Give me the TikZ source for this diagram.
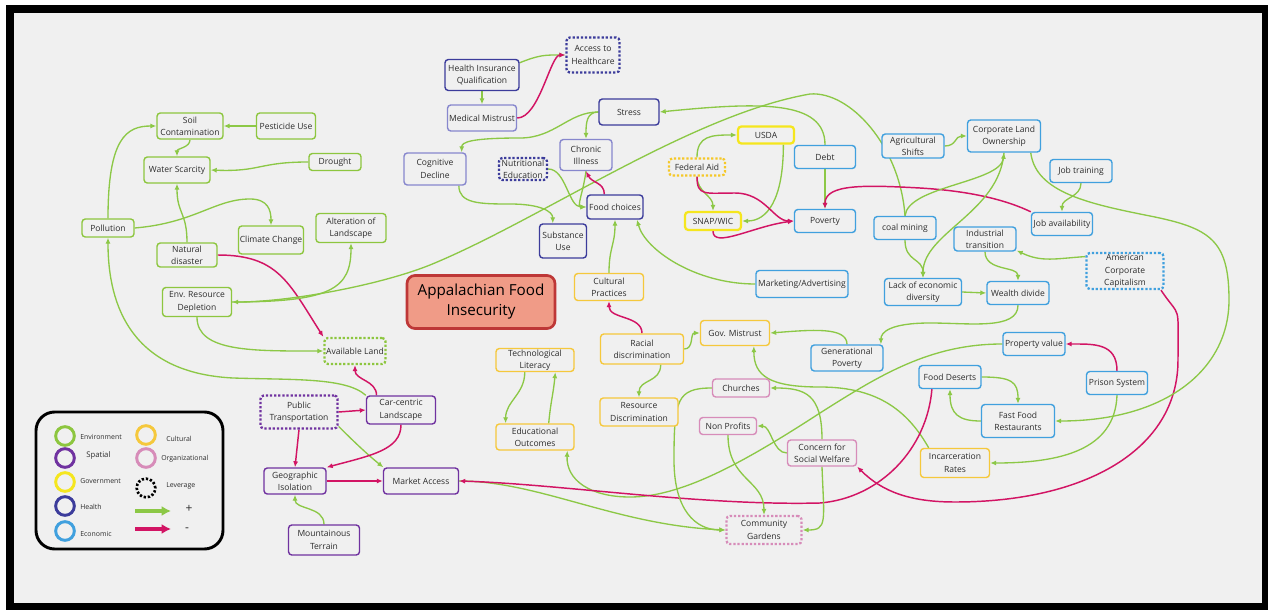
\documentclass[tikz,border=0pt]{standalone}
\usepackage{fontspec}
\setmainfont{Open Sans}
\usetikzlibrary{arrows.meta,calc}
\definecolor{bgc}{RGB}{240,240,240}
\definecolor{txt}{RGB}{45,45,45}
\definecolor{cenv}{RGB}{141,198,63}
\definecolor{cspa}{RGB}{112,50,160}
\definecolor{chlt}{RGB}{60,60,155}
\definecolor{chlv}{RGB}{135,135,205}
\definecolor{cgov}{RGB}{245,230,30}
\definecolor{cfed}{RGB}{245,200,40}
\definecolor{ceco}{RGB}{64,160,222}
\definecolor{ccul}{RGB}{245,200,60}
\definecolor{corg}{RGB}{215,140,185}
\definecolor{cpos}{RGB}{140,200,70}
\definecolor{cneg}{RGB}{210,20,100}
\definecolor{tfill}{RGB}{240,155,135}
\definecolor{tdraw}{RGB}{190,55,55}
\pgfdeclarelayer{bglayer}
\pgfsetlayers{bglayer,main}
\begin{document}
\begin{tikzpicture}[x=0.75pt,y=-0.75pt,
  box/.style={rectangle, rounded corners=2.5pt, inner sep=0pt, align=center,
    font=\fontsize{6.4}{9.2}\selectfont, text=txt, fill=bgc, line width=1.05pt},
  env/.style={box, draw=cenv},
  spa/.style={box, draw=cspa},
  hlt/.style={box, draw=chlt},
  hlv/.style={box, draw=chlv},
  gvt/.style={box, draw=cgov, line width=1.7pt},
  fedb/.style={box, draw=cfed},
  eco/.style={box, draw=ceco},
  cul/.style={box, draw=ccul},
  org/.style={box, draw=corg},
  lev/.style={line width=1.7pt, dash pattern=on 1.7pt off 1.4pt},
  bw/.style={minimum width={#1*0.75pt}},
  bh/.style={minimum height={#1*0.75pt}},
  pe/.style={draw=cpos, line width=1pt, -{Latex[length=4.5pt,width=3.8pt]}},
  ne/.style={draw=cneg, line width=1.1pt, -{Latex[length=4.5pt,width=3.8pt]}},
  lgc/.style={circle, line width=2.2pt, minimum size=14pt, inner sep=0pt},
  lgt/.style={anchor=west, font=\fontsize{5.2}{6}\selectfont, text=txt, inner sep=0pt},
  titlebox/.style={rectangle, rounded corners=6pt, fill=tfill, draw=tdraw, line width=2pt,
    align=center, inner sep=0pt, font=\fontsize{11.4}{15}\selectfont, text={RGB:red,40;green,30;blue,30}}
]
\useasboundingbox (0,0) rectangle (1268,610);

% ---------- nodes: environment
\node[env,bw=66,bh=26] (soil) at (190,126) {Soil\\Contamination};
\node[env,bw=59,bh=26] (pest) at (286,126) {Pesticide Use};
\node[env,bw=66,bh=26] (water) at (177,170) {Water Scarcity};
\node[env,bw=52,bh=17] (drought) at (335,162) {Drought};
\node[env,bw=52,bh=18] (poll) at (108,228) {Pollution};
\node[env,bw=65,bh=28] (climate) at (271,240) {Climate Change};
\node[env,bw=70,bh=29] (alter) at (351,228) {Alteration of\\Landscape};
\node[env,bw=60,bh=24] (nat) at (187,255) {Natural\\disaster};
\node[env,bw=69,bh=29] (envres) at (197,302) {Env. Resource\\Depletion};
\node[env,lev,bw=61,bh=26] (avail) at (355,351) {Available Land};
% spatial
\node[spa,lev,bw=77,bh=33] (pt) at (299,412) {Public\\Transportation};
\node[spa,bw=69,bh=28] (car) at (401,410) {Car-centric\\Landscape};
\node[spa,bw=62,bh=26] (geo) at (295,481) {Geographic\\Isolation};
\node[spa,bw=75,bh=26] (market) at (421,481) {Market Access};
\node[spa,bw=71,bh=30] (mount) at (324,540) {Mountainous\\Terrain};
% health
\node[hlt,lev,bw=53,bh=35] (access) at (593,55) {Access to\\Healthcare};
\node[hlt,bw=74,bh=31] (hiq) at (482,75) {Health Insurance\\Qualification};
\node[hlv,bw=69,bh=26] (mm) at (482,118) {Medical Mistrust};
\node[hlt,bw=60,bh=26] (stress) at (629,112) {Stress};
\node[hlv,bw=52,bh=31] (chronic) at (586,155) {Chronic\\Illness};
\node[hlv,bw=62,bh=32] (cog) at (435,169) {Cognitive\\Decline};
\node[hlt,lev,bw=48,bh=22] (nutr) at (523,169) {Nutritional\\Education};
\node[hlt,bw=56,bh=24] (food) at (615,207) {Food choices};
\node[hlt,bw=47,bh=34] (subst) at (563,241) {Substance\\Use};
% government
\node[gvt,bw=56,bh=17] (usda) at (766,135) {USDA};
\node[fedb,lev,bw=56,bh=17] (fed) at (697,167) {Federal Aid};
\node[gvt,bw=56,bh=18] (snap) at (713,221) {SNAP/WIC};
% economic
\node[eco,bw=61,bh=23] (debt) at (825,157) {Debt};
\node[eco,bw=61,bh=23] (pov) at (825,221) {Poverty};
\node[eco,bw=92,bh=27] (mkt) at (802,284) {Marketing/Advertising};
\node[eco,bw=62,bh=24] (agri) at (913,146) {Agricultural\\Shifts};
\node[eco,bw=73,bh=32] (corp) at (1004,136) {Corporate Land\\Ownership};
\node[eco,bw=62,bh=23] (jobtr) at (1081,171) {Job training};
\node[eco,bw=61,bh=23] (jobav) at (1062,224) {Job availability};
\node[eco,bw=62,bh=23] (coal) at (905,228) {coal mining};
\node[eco,bw=62,bh=24] (ind) at (985,239) {Industrial\\transition};
\node[eco,lev,bw=77,bh=36] (acc) at (1125,271) {American\\Corporate\\Capitalism};
\node[eco,bw=77,bh=27] (lack) at (923,292) {Lack of economic\\diversity};
\node[eco,bw=62,bh=23] (wealth) at (1018,293) {Wealth divide};
\node[eco,bw=72,bh=26] (genpov) at (847,358) {Generational\\Poverty};
\node[eco,bw=62,bh=23] (prop) at (1034,344) {Property value};
\node[eco,bw=62,bh=23] (fdes) at (950,377) {Food Deserts};
\node[eco,bw=61,bh=23] (prison) at (1117,383) {Prison System};
\node[eco,bw=73,bh=33] (ff) at (1018,421) {Fast Food\\Restaurants};
% cultural
\node[cul,bw=69,bh=27] (cult) at (609,287) {Cultural\\Practices};
\node[cul,bw=83,bh=30] (racial) at (642,349) {Racial\\discrimination};
\node[cul,bw=69,bh=25] (gov) at (735,333) {Gov. Mistrust};
\node[cul,bw=78,bh=28] (resdisc) at (639,412) {Resource\\Discrimination};
\node[cul,bw=78,bh=23] (tech) at (535,360) {Technological\\Literacy};
\node[cul,bw=78,bh=26] (edu) at (535,437) {Educational\\Outcomes};
\node[cul,bw=69,bh=29] (incar) at (955,463) {Incarceration\\Rates};
% organizational
\node[org,bw=57,bh=18] (church) at (741,388) {Churches};
\node[org,bw=57,bh=17] (np) at (728,426) {Non Profits};
\node[org,bw=69,bh=26] (concern) at (822,453) {Concern for\\Social Welfare};
\node[org,lev,bw=75,bh=28] (cg) at (764,530) {Community\\Gardens};
% title
\node[titlebox,bw=148,bh=53] (title) at (481,302) {Appalachian Food\\Insecurity};

% ---------- legend
\draw[line width=2.2pt, rounded corners=14pt, fill=bgc] (36,412) rectangle (223,549);
\node[lgc,draw=cenv] (lgenv) at (65,436) {};
\node[lgc,draw=cspa] (lgspa) at (65,458) {};
\node[lgc,draw=cgov] (lggov) at (65,482) {};
\node[lgc,draw=chlt] (lghlt) at (65,506) {};
\node[lgc,draw=ceco] (lgeco) at (65,531) {};
\node[lgc,draw=ccul] (lgcul) at (146,435) {};
\node[lgc,draw=corg] (lgorg) at (146,458) {};
\node[lgc,draw=black,lev,line width=2pt] (lglev) at (146,488) {};
\node[lgt] (tenv) at (80,437) {Environment};
\node[lgt,font=\fontsize{5.8}{6}\selectfont] (tspa) at (86,455) {Spatial};
\node[lgt] (tgov) at (80,481) {Government};
\node[lgt] (thlt) at (80,507) {Health};
\node[lgt] (teco) at (80,534) {Economic};
\node[lgt] (tcul) at (166,439) {Cultural};
\node[lgt] (torg) at (161,459) {Organizational};
\node[lgt] (tlev) at (166,486) {Leverage};
\coordinate (pa1) at (135,511);
\coordinate (pa2) at (171,511);
\coordinate (na1) at (135,529);
\coordinate (na2) at (171,529);
\draw[line width=2.4pt, cpos, -{Latex[length=7pt,width=7.5pt]}] (pa1) -- (pa2);
\draw[line width=2.4pt, cneg, -{Latex[length=7pt,width=7.5pt]}] (na1) -- (na2);
\node[font=\fontsize{9}{10}\selectfont, text=txt, inner sep=0pt] (plus) at (189,509) {+};
\node[font=\fontsize{9}{10}\selectfont, text=txt, inner sep=0pt] (minus) at (187,530) {-};

\begin{pgfonlayer}{bglayer}
\fill[white] (0,0) rectangle (1268,610);
\fill[black] (6,5) rectangle (1268,610);
\fill[bgc] (14,13) rectangle (1262,603);

% environment edges
\draw[pe] (pest.west) -- (soil.east);
\draw[pe] (soil.south) .. controls +(0,8) and +(0,-8) .. (water.north);
\draw[pe] (drought.west) .. controls +(-50,0) and +(50,2) .. (water.east);
\draw[pe] (poll.north) .. controls +(0,-80) and +(-30,0) .. (soil.west);
\draw[pe] (poll.east) .. controls +(60,-5) and +(-35,0) .. (250,199) .. controls +(18,0) and +(0,-15) .. (climate.north);
\draw[pe] (nat.north) .. controls +(0,-30) and +(0,30) .. (water.south);
\draw[ne] (nat.east) .. controls +(60,0) and +(-35,-55) .. (avail.north west);
\draw[pe] (envres.south) .. controls +(0,35) and +(-70,0) .. (avail.west);
\draw[pe] (envres.east) .. controls +(100,0) and +(0,45) .. (alter.south);
\draw[pe] (coal.north) .. controls +(-5,-70) and +(40,-3) .. (810,94) .. controls (690,115) and (540,220) .. (430,265) .. controls (380,285) and (290,302) .. (envres.east);
\draw[pe] (car.north west) .. controls +(-20,-18) and +(60,2) .. (233,378) .. controls +(-100,-5) and +(0,70) .. (poll.south);
\draw[ne] (car.149) .. controls +(0,-15) and +(0,15) .. (avail.south);
\draw[ne] (pt.east) -- (car.west);
\draw[ne] (pt.south) -- (geo.north);
\draw[pe] (pt.-20) .. controls +(15,15) and +(-15,-12) .. (market.160);
\draw[ne] (car.south) .. controls +(0,25) and +(45,-12) .. (geo.north east);
\draw[ne] (geo.east) -- (market.west);
\draw[pe] (mount.north) .. controls +(0,-18) and +(0,15) .. (geo.south);
% health edges
\draw[pe] (hiq.18) .. controls +(20,-8) and +(-20,0) .. (access.west);
\draw[ne] (mm.east) .. controls +(22,0) and +(-15,0) .. (access.west);
\draw[pe] (hiq.south) -- (mm.north);
\draw[pe] (debt.north) .. controls +(0,-45) and +(100,-10) .. (stress.east);
\draw[pe] (stress.west) .. controls +(-12,0) and +(0,-15) .. (chronic.north);
\draw[pe] (stress.west) .. controls +(-30,0) and +(35,0) .. (520,138) .. controls +(-50,0) and +(0,-10) .. (cog.32);
\draw[pe] (cog.-35) .. controls +(0,18) and +(-30,0) .. (510,204) .. controls +(30,0) and +(0,-12) .. (subst.120);
\draw[pe] (nutr.east) .. controls +(18,0) and +(-18,0) .. (food.west);
\draw[pe] (chronic.south) .. controls +(-3,22) and +(-10,0) .. (food.west);
\draw[ne] (food.130) .. controls +(0,-12) and +(6,12) .. (chronic.south);
\draw[pe] (cult.north) .. controls +(0,-25) and +(0,25) .. (food.south);
\draw[pe] (mkt.west) .. controls +(-60,0) and +(8,30) .. (food.-30);
% government / economic edges
\draw[pe] (fed.north) .. controls +(0,-22) and +(-25,0) .. (usda.west);
\draw[pe] (fed.south) .. controls +(0,15) and +(0,-15) .. (snap.north);
\draw[pe] (usda.-29) .. controls +(0,55) and +(25,0) .. (snap.east);
\draw[ne] (fed.south) .. controls +(0,20) and +(-30,0) .. (735,193) .. controls +(30,0) and +(-20,0) .. (pov.west);
\draw[ne] (snap.south) .. controls +(0,18) and +(-40,5) .. (pov.west);
\draw[pe] (debt.south) -- (pov.north);
\draw[ne] (jobav.north west) .. controls +(-25,-12) and +(50,3) .. (920,188) .. controls +(-55,-3) and +(0,-25) .. (pov.north);
\draw[pe] (jobtr.south) .. controls +(0,14) and +(0,-14) .. (jobav.north);
\draw[pe] (agri.east) .. controls +(12,0) and +(-12,0) .. (corp.west);
\draw[pe] (coal.north) .. controls +(3,-30) and +(-3,30) .. (corp.south);
\draw[pe] (corp.south) .. controls +(-5,60) and +(0,-45) .. (lack.north);
\draw[pe] (coal.south) .. controls +(0,22) and +(0,-20) .. (lack.north);
\draw[pe] (lack.east) -- (wealth.west);
\draw[pe] (ind.south) .. controls +(0,20) and +(0,-15) .. (wealth.north);
\draw[pe] (acc.160) .. controls +(-30,2) and +(25,12) .. (ind.-20);
\draw[pe] (wealth.south) .. controls +(0,25) and +(40,0) .. (930,323) .. controls +(-40,0) and +(0,-12) .. (genpov.22);
\draw[pe] (genpov.north) .. controls +(0,-18) and +(40,-3) .. (gov.east);
\draw[pe] (incar.150) .. controls +(-20,-35) and +(60,0) .. (820,387) .. controls +(-50,0) and +(0,30) .. (gov.-35);
\draw[pe] (racial.east) .. controls +(10,0) and +(-10,0) .. (gov.west);
\draw[ne] (racial.north) .. controls +(0,-18) and +(0,18) .. (cult.south);
\draw[pe] (racial.-40) .. controls +(0,18) and +(0,-18) .. (resdisc.north);
\draw[pe] (tech.-130) .. controls +(0,22) and +(0,-22) .. (edu.155);
\draw[pe] (edu.45) .. controls +(2,-22) and +(-2,22) .. (tech.-31);
\draw[pe] (prop.west) .. controls (930,344) and (880,375) .. (820,413) .. controls (740,465) and (680,497) .. (630,497) .. controls (590,497) and (566,480) .. (edu.-23);
\draw[pe] (market.east) .. controls +(80,0) and +(-110,-5) .. (cg.west);
\draw[ne] (fdes.-146) .. controls +(-5,60) and +(60,-5) .. (820,503) .. controls (700,506) and (560,484) .. (market.east);
\draw[pe] (church.west) .. controls +(-35,0) and +(0,-60) .. (674,460) .. controls +(0,50) and +(-30,0) .. (cg.west);
\draw[pe] (np.south) .. controls +(0,45) and +(0,-35) .. (cg.north);
\draw[pe] (concern.west) .. controls +(-14,0) and +(14,0) .. (np.east);
\draw[pe] (concern.north) .. controls +(0,-45) and +(35,0) .. (church.east);
\draw[pe] (concern.south) .. controls +(2,55) and +(25,0) .. (cg.east);
\draw[ne] (acc.-28) .. controls +(20,30) and +(0,-60) .. (1178,360) .. controls +(0,90) and +(130,0) .. (955,502) .. controls +(-45,0) and +(25,25) .. (concern.south east);
\draw[ne] (prison.north) .. controls +(0,-28) and +(28,0) .. (prop.east);
\draw[pe] (prison.south) .. controls +(-2,55) and +(70,0) .. (incar.east);
\draw[pe] (corp.-32) .. controls +(5,40) and +(-60,-12) .. (1150,216) .. controls +(60,12) and +(0,-60) .. (1229,300) .. controls +(0,70) and +(110,0) .. (ff.east);
\draw[pe] (fdes.east) .. controls +(30,0) and +(0,-22) .. (ff.north);
\draw[pe] (ff.west) .. controls +(-22,0) and +(0,25) .. (fdes.south);
\end{pgfonlayer}
\end{tikzpicture}
\end{document}
